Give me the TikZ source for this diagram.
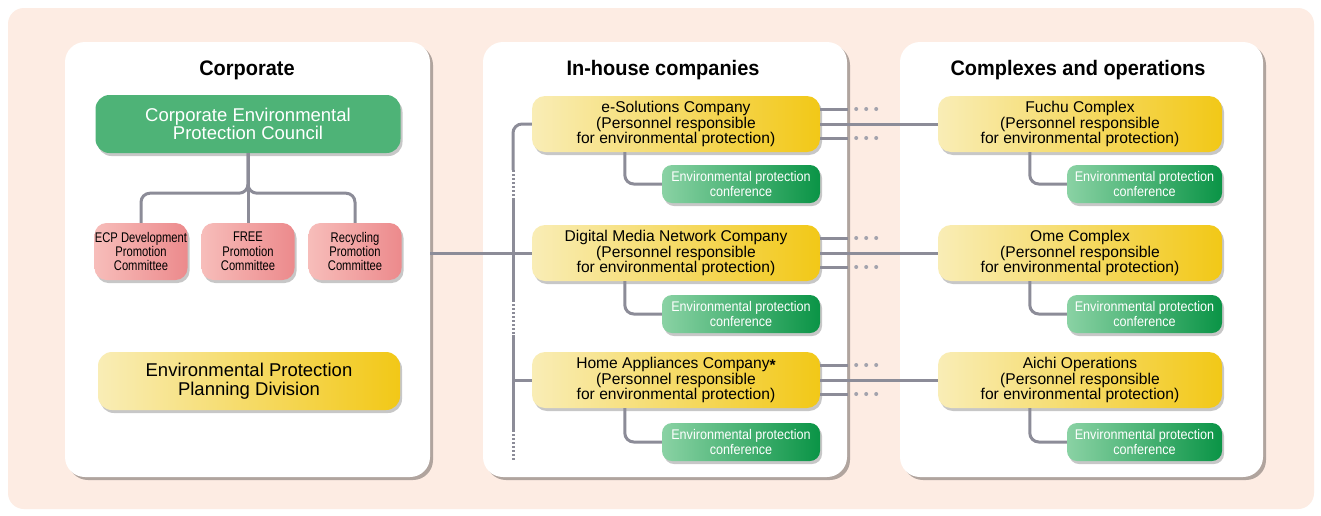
\documentclass[tikz,border=0pt]{standalone}
\usepackage{fontspec}
\setmainfont{Liberation Sans}
\newfontfamily\titlef[FakeStretch=0.95]{Liberation Sans}
\newfontfamily\condf[FakeStretch=0.9]{Liberation Sans}
\newfontfamily\pinkf[FakeStretch=0.8]{Liberation Sans}
\usetikzlibrary{shadows,calc}
\definecolor{peach}{HTML}{FDECE3}
\definecolor{lineg}{HTML}{8C8C98}
\definecolor{yellowL}{HTML}{F9EDB6}
\definecolor{yellowR}{HTML}{F2C817}
\definecolor{councilG}{HTML}{4EB377}
\definecolor{confL}{HTML}{8AD2A4}
\definecolor{confR}{HTML}{0A9446}
\definecolor{pinkL}{HTML}{F7BDBA}
\definecolor{pinkR}{HTML}{EC8A8C}
\tikzset{
  panel/.style={fill=white, rounded corners=20, inner sep=0pt, minimum height=435,
    drop shadow={shadow xshift=3pt, shadow yshift=-3pt, fill=black, opacity=0.3}},
  ttl/.style={font=\titlef\bfseries\fontsize{21}{24}\selectfont},
  boxshadow/.style={drop shadow={shadow xshift=2pt, shadow yshift=-3pt, fill=black, opacity=0.22}},
  ybox/.style={boxshadow, rounded corners=13, left color=yellowL, right color=yellowR,
    minimum height=56, align=center, inner sep=0pt, font=\fontsize{15.6}{14.5}\selectfont},
  bigbox/.style={boxshadow, rounded corners=14, minimum height=58, align=center, inner sep=0pt,
    font=\fontsize{18.5}{18.5}\selectfont},
  pinkbox/.style={boxshadow, rounded corners=12, left color=pinkL, right color=pinkR,
    minimum width=93, minimum height=57, align=center, inner sep=0pt,
    font=\pinkf\fontsize{14}{14.3}\selectfont},
  confbox/.style={boxshadow, rounded corners=10, left color=confL, right color=confR,
    minimum height=38, align=center, inner sep=0pt, text=white,
    font=\condf\fontsize{14}{14.5}\selectfont},
  conn/.style={draw=lineg, line width=3pt},
  dotconn/.style={draw=lineg, line width=3pt, dash pattern=on 1.5pt off 2.5pt},
  dotmark/.style={fill=lineg!80, circle, inner sep=0pt, minimum size=4}
}
\begin{document}
\begin{tikzpicture}[x=1pt, y=-1pt]
\useasboundingbox (0,0) rectangle (1321,515);
\fill[white] (0,0) rectangle (1321,515);
\fill[peach, rounded corners=16] (8,8) rectangle (1314,509);

% panels
\node[panel, minimum width=365] (corpP) at (247.5,259.5) {};
\node[panel, minimum width=364] (houseP) at (665,259.5) {};
\node[panel, minimum width=363] (compP) at (1081.5,259.5) {};

% titles
\node[ttl] (t1) at (247,70) {Corporate};
\node[ttl] (t2) at (663,70) {In-house companies};
\node[ttl] (t3) at (1078,70) {Complexes and operations};

% corporate
\node[bigbox, fill=councilG, text=white, minimum width=305] (council) at (248,124)
  {Corporate Environmental\\Protection Council};
\node[pinkbox] (p1) at (141,251.5) {ECP Development\\Promotion\\Committee};
\node[pinkbox] (p2) at (248,251.5) {FREE\\Promotion\\Committee};
\node[pinkbox] (p3) at (355,251.5) {Recycling\\Promotion\\Committee};
\node[bigbox, left color=yellowL, right color=yellowR, minimum width=302] (plan) at (249,381)
  {Environmental Protection\\Planning Division};

% in-house companies
\node[ybox, minimum width=288] (ecs) at (676,124)
  {e-Solutions Company\\(Personnel responsible\\for environmental protection)};
\node[ybox, minimum width=288] (dmn) at (676,253)
  {Digital Media Network Company\\(Personnel responsible\\for environmental protection)};
\node[ybox, minimum width=288] (hac) at (676,380)
  {Home Appliances Company\smash{\raisebox{-1.5pt}{\textbf{*}}}\\(Personnel responsible\\for environmental protection)};
\node[confbox, minimum width=158] (c1) at (741,184) {Environmental protection\\conference};
\node[confbox, minimum width=158] (c2) at (741,314) {Environmental protection\\conference};
\node[confbox, minimum width=158] (c3) at (741,442) {Environmental protection\\conference};

% complexes
\node[ybox, minimum width=284] (fuchu) at (1080,124)
  {Fuchu Complex\\(Personnel responsible\\for environmental protection)};
\node[ybox, minimum width=284] (ome) at (1080,253)
  {Ome Complex\\(Personnel responsible\\for environmental protection)};
\node[ybox, minimum width=284] (aichi) at (1080,380)
  {Aichi Operations\\(Personnel responsible\\for environmental protection)};
\node[confbox, minimum width=155] (d1) at (1144.5,184) {Environmental protection\\conference};
\node[confbox, minimum width=155] (d2) at (1144.5,314) {Environmental protection\\conference};
\node[confbox, minimum width=155] (d3) at (1144.5,442) {Environmental protection\\conference};

% corporate connectors
\draw[conn] (council.south) -- (p2.north);
\draw[conn, rounded corners=9] (council.south) -- ++(0,40) -| (p1.north);
\draw[conn, rounded corners=9] (council.south) -- ++(0,40) -| (p3.north);

% company -> conference connectors
\foreach \a/\b in {ecs/c1, dmn/c2, hac/c3}{
  \draw[conn, rounded corners=9] ([xshift=93pt]\a.south west) |- (\b.west);
}
\foreach \a/\b in {fuchu/d1, ome/d2, aichi/d3}{
  \draw[conn, rounded corners=9] ([xshift=92pt]\a.south west) |- (\b.west);
}

% left bracket of in-house companies
\coordinate (b1) at (513,170);
\coordinate (b2) at (513,200);
\coordinate (b3) at (513,300);
\coordinate (b4) at (513,335);
\coordinate (b5) at (513,430);
\coordinate (b6) at (513,462);
\draw[conn, rounded corners=9] (ecs.west) -| (b1);
\draw[dotconn] (b1) -- (b2);
\draw[conn] (b2) -- (b3);
\draw[dotconn] (b3) -- (b4);
\draw[conn] (b4) -- (b5);
\draw[dotconn] (b5) -- (b6);
\draw[conn] (b4 |- hac.west) -- (hac.west);
\draw[conn] (corpP.east |- dmn.west) -- (dmn.west);

% company -> complex connectors
\foreach \a/\b in {ecs/fuchu, dmn/ome, hac/aichi}{
  \draw[conn] (\a.east) -- (\b.west);
  \draw[conn] ([yshift=15pt]\a.east) -- ++(28,0) coordinate (\a-u);
  \draw[conn] ([yshift=-14pt]\a.east) -- ++(28,0) coordinate (\a-d);
  \foreach \s in {8,18,28}{
    \node[dotmark] at ([xshift=\s pt]\a-u) {};
    \node[dotmark] at ([xshift=\s pt]\a-d) {};
  }
}
\end{tikzpicture}
\end{document}
